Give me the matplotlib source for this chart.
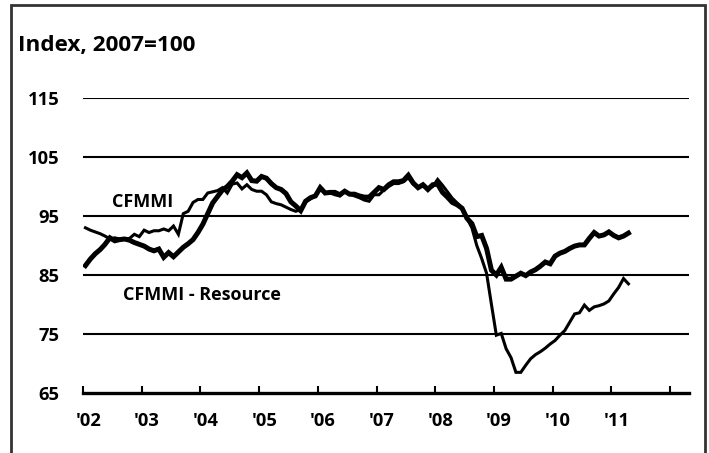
import matplotlib
matplotlib.use("Agg")
import matplotlib.pyplot as plt
from matplotlib.patches import Rectangle
import numpy as np

plt.rcParams['font.family'] = ['Open Sans', 'DejaVu Sans']
plt.rcParams['font.weight'] = 'bold'

# monthly index values, Jan 2002 - Apr 2011 (2007=100)
cfmmi = [93.0, 92.6, 92.3, 92.0, 91.6, 91.1, 91.3, 91.1, 91.1, 91.2, 91.9, 91.5,
         92.6, 92.2, 92.5, 92.5, 92.8, 92.5, 93.3, 91.9, 95.4, 95.8, 97.3, 97.8,
         97.8, 98.9, 99.1, 99.3, 99.8, 98.9, 100.4, 100.6, 99.6, 100.3, 99.5, 99.2,
         99.2, 98.6, 97.4, 97.1, 96.9, 96.5, 96.1, 95.8, 96.1, 97.5, 97.9, 98.5,
         99.7, 98.9, 98.9, 98.6, 98.4, 99.1, 98.7, 98.4, 98.1, 97.7, 97.5, 98.6,
         98.6, 99.4, 100.0, 100.5, 100.5, 100.8, 101.5, 100.4, 99.9, 100.1, 99.6, 100.0,
         101.2, 100.2, 99.1, 98.0, 97.2, 96.4, 94.6, 93.0, 90.0, 87.8, 85.3, 80.0,
         74.8, 75.1, 72.5, 71.0, 68.5, 68.5, 69.7, 70.8, 71.5, 72.0, 72.6, 73.3,
         73.9, 74.8, 75.6, 77.0, 78.4, 78.6, 79.9, 79.0, 79.6, 79.8, 80.1, 80.6,
         81.8, 82.9, 84.4, 83.5]
resource = [86.6, 87.7, 88.6, 89.3, 90.2, 91.3, 90.8, 91.0, 91.1, 90.9, 90.5, 90.2,
            89.9, 89.4, 89.1, 89.4, 88.0, 88.8, 88.1, 88.9, 89.7, 90.3, 91.0, 92.2,
            93.6, 95.4, 97.2, 98.3, 99.4, 100.0, 100.9, 102.0, 101.5, 102.3, 101.0, 100.9,
            101.7, 101.4, 100.5, 99.8, 99.5, 98.8, 97.4, 96.7, 95.9, 97.5, 98.1, 98.4,
            99.8, 98.9, 99.0, 99.0, 98.6, 99.2, 98.7, 98.7, 98.4, 98.2, 98.2, 99.0,
            99.8, 99.5, 100.3, 100.8, 100.8, 101.0, 101.9, 100.6, 99.8, 100.3, 99.5, 100.3,
            100.4, 99.0, 98.2, 97.3, 96.9, 96.3, 94.6, 93.7, 91.5, 91.7, 89.5, 85.8,
            85.0, 86.3, 84.3, 84.3, 84.8, 85.3, 84.9, 85.5, 85.9, 86.5, 87.2, 86.9,
            88.2, 88.7, 89.0, 89.5, 89.9, 90.1, 90.1, 91.2, 92.2, 91.6, 91.8, 92.3,
            91.7, 91.3, 91.6, 92.1]

years = list(range(2002, 2013))
year_labels = ["'02", "'03", "'04", "'05", "'06", "'07", "'08", "'09", "'10", "'11"]
y_ticks = [65, 75, 85, 95, 105, 115]

x = 2002 + (np.arange(len(cfmmi)) + 0.5) / 12

fig = plt.figure(figsize=(7.09, 4.53), dpi=100)
ax = fig.add_axes([83 / 709, 60 / 453, 606 / 709, 295 / 453])

for v in y_ticks[1:]:
    ax.axhline(v, color='black', lw=1.5, zorder=1)

ax.plot(x, cfmmi, color='black', lw=2.2, zorder=3, solid_joinstyle='miter')
ax.plot(x, resource, color='black', lw=3.6, zorder=3, solid_joinstyle='miter')

ax.set_xlim(2002, 2002 + 606 / 58.7)
ax.set_ylim(65, 115)

for s in ['top', 'right', 'left']:
    ax.spines[s].set_visible(False)
ax.spines['bottom'].set_linewidth(2.4)

ax.set_yticks(y_ticks)
ax.set_yticklabels([str(v) for v in y_ticks], fontsize=13.2, fontweight='bold')
ax.tick_params(axis='y', length=0, pad=17)

ax.set_xticks(years)
ax.set_xticklabels([])
ax.tick_params(axis='x', which='major', direction='in', length=5, width=1.5)
ax.set_xticks([y + 0.09 for y in years[:-1]], minor=True)
ax.set_xticklabels(year_labels, minor=True, fontsize=13.2, fontweight='bold')
ax.tick_params(axis='x', which='minor', length=0, pad=14)

ax.text(2002.49, 97.3, 'CFMMI', fontsize=13, fontweight='bold', va='center', ha='left')
ax.text(2002.68, 81.6, 'CFMMI - Resource', fontsize=13, fontweight='bold', va='center', ha='left')

fig.text(18 / 709, 1 - 45 / 453, 'Index, 2007=100', fontsize=16.2, fontweight='bold',
         va='center', ha='left')

fig.patches.append(Rectangle((11 / 709, -0.05), 694 / 709, 1.05 - 5 / 453,
                             transform=fig.transFigure, fill=False,
                             edgecolor='#333333', lw=2.0))

fig.savefig('out.png', dpi=100)
